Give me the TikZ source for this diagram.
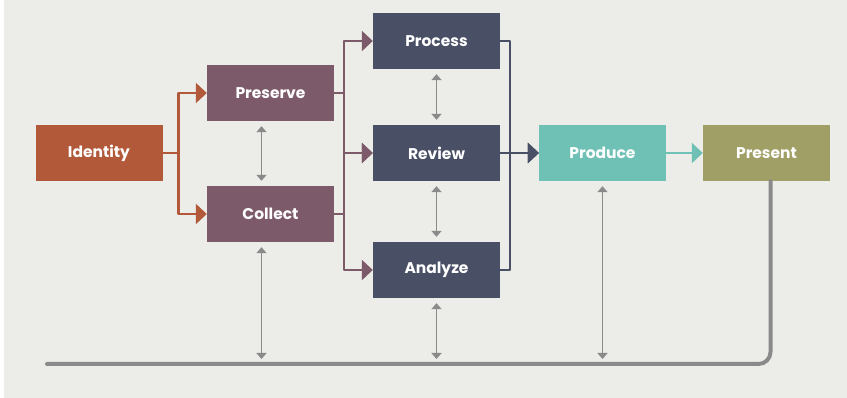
\documentclass[tikz,border=0pt]{standalone}
\usepackage{fontspec}
\setmainfont{Poppins}
\usetikzlibrary{arrows.meta}
\definecolor{bgcol}{HTML}{ECECE8}
\definecolor{rust}{HTML}{B2593A}
\definecolor{mauve}{HTML}{7C5A6A}
\definecolor{slate}{HTML}{495066}
\definecolor{teal}{HTML}{70C1B5}
\definecolor{olive}{HTML}{A09F65}
\definecolor{lgray}{HTML}{8A8A8A}
\begin{document}
\begin{tikzpicture}[x=1pt, y=-1pt, font=\bfseries\fontsize{15.5}{18}\selectfont, line join=round,
	>={Triangle[length=11pt,width=20pt]},
	stepbox/.style={minimum width=127pt, minimum height=56pt, inner sep=0pt, text=white},
	link/.style={line width=2.5pt, ->},
	dbl/.style={draw=lgray, line width=1.6pt, {Triangle[length=6pt,width=10pt]}-{Triangle[length=6pt,width=10pt]}, shorten <=5pt, shorten >=5pt}]
	%%%%%%%%%%%%%%%%%%%%%%%%%%%%%%%%%
	\useasboundingbox (0,0) rectangle (847,398);
	\fill[bgcol] (4,0) rectangle (847,398);
	\coordinate (base) at (47,364);
	%%%%%%%%%%%%%%%%%%%%%%%%%%%%%%%%%
	\node[stepbox, fill=rust] (idn) at (99,153) {Identity};
	\node[stepbox, fill=mauve] (pre) at (270.5,93) {Preserve};
	\node[stepbox, fill=mauve] (col) at (270.5,214) {Collect};
	\node[stepbox, fill=slate] (proc) at (436.5,41) {Process};
	\node[stepbox, fill=slate] (rev) at (436.5,153) {Review};
	\node[stepbox, fill=slate] (ana) at (436.5,270) {Analyze};
	\node[stepbox, fill=teal] (prod) at (602.5,153) {Produce};
	\node[stepbox, fill=olive] (pres) at (766.5,153) {Present};
	%%%%%%%%%%%%%%%%%%%%%%%%%%%%%%%%%
	\begin{scope}[rust]
		\draw[link] (idn.east) -- ++(16,0) |- (pre.west);
		\draw[link] (idn.east) -- ++(16,0) |- (col.west);
	\end{scope}
	\begin{scope}[mauve]
		\draw[link] (pre.east) -- ++(10,0) |- (proc.west);
		\draw[link] (pre.east) -- ++(10,0) |- (rev.west);
		\draw[link] (col.east) -- ++(10,0) |- (rev.west);
		\draw[link] (col.east) -- ++(10,0) |- (ana.west);
	\end{scope}
	\begin{scope}[slate]
		\draw[link] (proc.east) -- ++(10,0) |- (prod.west);
		\draw[link] (ana.east) -- ++(10,0) |- (prod.west);
		\draw[link] (rev.east) -- (prod.west);
	\end{scope}
	\draw[link, teal] (prod.east) -- (pres.west);
	%%%%%%%%%%%%%%%%%%%%%%%%%%%%%%%%%
	\draw[lgray, line width=4pt, line cap=round, rounded corners=12pt] ([xshift=4pt]pres.south) |- (base);
	\draw[dbl] ([xshift=-9pt]pre.south) -- ([xshift=-9pt]col.north);
	\draw[dbl] (proc.south) -- (rev.north);
	\draw[dbl] (rev.south) -- (ana.north);
	\draw[dbl] ([xshift=-9pt]col.south) -- ([xshift=-9pt]col.south |- base);
	\draw[dbl] (ana.south) -- (ana.south |- base);
	\draw[dbl] (prod.south) -- (prod.south |- base);
	%%%%%%%%%%%%%%%%%%%%%%%%%%%%%%%%%
\end{tikzpicture}
\end{document}
